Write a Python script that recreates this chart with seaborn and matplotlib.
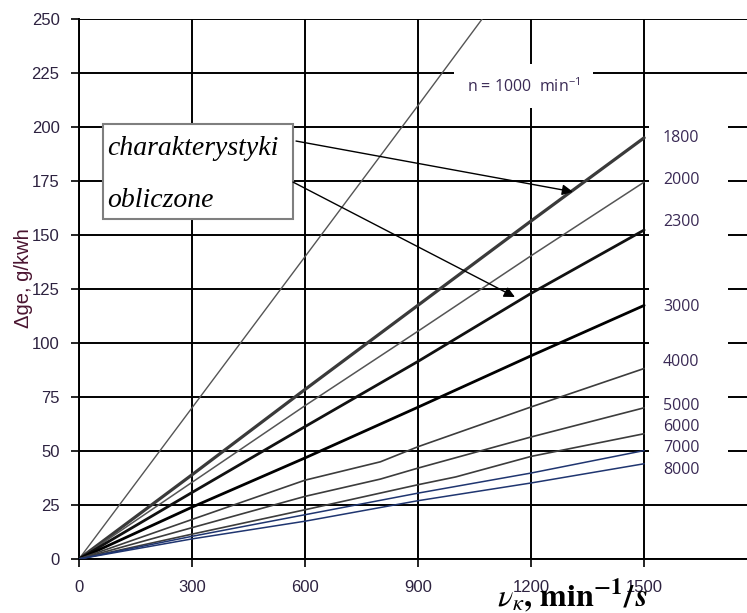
import matplotlib
matplotlib.use("Agg")
import matplotlib.pyplot as plt
from matplotlib.patches import Rectangle
import numpy as np
import pandas as pd
import seaborn as sns

# ---------------- data ----------------
speeds = [1000, 1800, 2000, 2300, 3000, 4000, 5000, 6000, 7000, 8000]
x_1000 = [0, 300, 600, 900, 1070]
y_1000 = [0, 70, 140, 210, 250]
x_base = [0, 300, 600, 900, 1200, 1500]
y_1800 = [0, 39, 78.5, 117.5, 156.5, 195]
y_2000 = [0, 35.5, 71, 105.5, 140.4, 174.5]
y_2300 = [0, 30.8, 61.3, 91.5, 123, 152.3]
y_3000 = [0, 24, 46.8, 70.3, 94.1, 117.4]
x_4000 = [0, 300, 600, 800, 900, 1200, 1500]
y_4000 = [0, 18.3, 36.5, 45, 52, 70.4, 88.2]
x_5000 = [0, 300, 600, 800, 900, 1200, 1500]
y_5000 = [0, 14.5, 29, 37, 42.1, 56.5, 70]
x_6000 = [0, 300, 600, 900, 1000, 1200, 1500]
y_6000 = [0, 11.5, 22.8, 34.4, 38, 47.5, 58]
y_7000 = [0, 10.5, 20.5, 30.5, 39.8, 50.2]
y_8000 = [0, 9.3, 17.5, 27, 35.2, 44.1]

curve_x = [x_1000, x_base, x_base, x_base, x_base, x_4000, x_5000, x_6000, x_base, x_base]
curve_y = [y_1000, y_1800, y_2000, y_2300, y_3000, y_4000, y_5000, y_6000, y_7000, y_8000]

end_labels = ["1800", "2000", "2300", "3000", "4000", "5000", "6000", "7000", "8000"]
end_label_y = [195, 175.5, 156, 116.7, 91, 70.8, 61, 51.4, 41.2]
n_label = "n = 1000  min$^{\\mathregular{-1}}$"
box_lines = ["charakterystyki", "obliczone"]
x_ticks = [0, 300, 600, 900, 1200, 1500]
y_ticks = [0, 25, 50, 75, 100, 125, 150, 175, 200, 225, 250]
y_label = "\u0394ge, g/kwh"
x_label = r"$\boldsymbol{\nu_{\kappa}}\mathbf{,\,min^{-1}/}\,\boldsymbol{s}$"

# ---------------- styles ----------------
styles = {
    1000: dict(color="#555555", lw=1.0),
    1800: dict(color="#3a3a3a", lw=2.3),
    2000: dict(color="#555555", lw=1.1),
    2300: dict(color="#111111", lw=2.0),
    3000: dict(color="#000000", lw=2.0),
    4000: dict(color="#3c3c3c", lw=1.2),
    5000: dict(color="#3c3c3c", lw=1.2),
    6000: dict(color="#3c3c3c", lw=1.2),
    7000: dict(color="#1f3570", lw=1.1),
    8000: dict(color="#1f3570", lw=1.1),
}

rows = []
for s, xs, ys in zip(speeds, curve_x, curve_y):
    for xv, yv in zip(xs, ys):
        rows.append((s, xv, yv))
df = pd.DataFrame(rows, columns=["n", "v", "dge"])

sns.set_theme(style="white")
plt.rcParams["font.family"] = ["Liberation Sans", "DejaVu Sans"]
plt.rcParams["mathtext.fontset"] = "stix"

fig = plt.figure(figsize=(7.47, 6.13), dpi=100)
ax = fig.add_axes([79 / 747, 54 / 613, 668 / 747, 540 / 613])
ax.set_axisbelow(True)

for s in speeds:
    sub = df[df["n"] == s]
    sns.lineplot(data=sub, x="v", y="dge", ax=ax, color=styles[s]["color"],
                 linewidth=styles[s]["lw"], estimator=None, sort=False,
                 legend=False, zorder=3)

ax.set_xlim(0, 1773)
ax.set_ylim(0, 250)
ax.set_xticks(x_ticks)
ax.set_yticks(y_ticks)
ax.set_xticklabels([str(t) for t in x_ticks])
ax.set_yticklabels([str(t) for t in y_ticks])
ax.grid(True, color="black", linewidth=1.4)
ax.tick_params(axis="both", which="major", direction="out", length=6, width=1.2,
               color="black", labelsize=12, labelcolor="#2d2240", bottom=True, left=True)
ax.tick_params(axis="y", pad=8)
ax.tick_params(axis="x", pad=9)
for side in ["top", "right"]:
    ax.spines[side].set_visible(False)
for side in ["left", "bottom"]:
    ax.spines[side].set_color("black")
    ax.spines[side].set_linewidth(1.4)
ax.set_xlabel("")
ax.set_ylabel("")

# white strip behind end labels (cuts gridlines like the reference)
ax.add_patch(Rectangle((1513, 40), 210, 166, facecolor="white", edgecolor="none",
                       zorder=1.5))

for lab, yv in zip(end_labels, end_label_y):
    ax.text(1598, yv, lab, ha="center", va="center", fontsize=11.5,
            family="Open Sans", color="#3a2a55", zorder=4)

ax.text(1181, 219, n_label, ha="center", va="center", fontsize=11.5,
        family="Open Sans", color="#3a2a55", zorder=4,
        bbox=dict(boxstyle="square,pad=0.8", facecolor="white", edgecolor="none"))

# annotation box
ax.add_patch(Rectangle((64, 157.4), 504, 44, facecolor="white", edgecolor="#7f7f7f",
                       linewidth=1.5, zorder=5))
ax.text(74, 187, box_lines[0], ha="left", va="baseline", fontsize=20,
        family="Liberation Serif", style="italic", color="black", zorder=6)
ax.text(74, 163, box_lines[1], ha="left", va="baseline", fontsize=20,
        family="Liberation Serif", style="italic", color="black", zorder=6)

arrow_kw = dict(arrowstyle="-|>", color="black", lw=1.0, mutation_scale=16,
                shrinkA=0, shrinkB=0)
ax.annotate("", xy=(1311, 170), xytext=(576, 193.5), arrowprops=arrow_kw, zorder=6)
ax.annotate("", xy=(1157, 121.3), xytext=(568, 174.5), arrowprops=arrow_kw, zorder=6)

fig.text(24 / 747, (613 - 278) / 613, y_label, rotation=90, ha="center", va="center",
         fontsize=14.5, color="#4a1530")
fig.text(497 / 747, (613 - 606) / 613, x_label, ha="left", va="baseline",
         fontsize=23, color="black")

fig.savefig("out.png", dpi=100)
